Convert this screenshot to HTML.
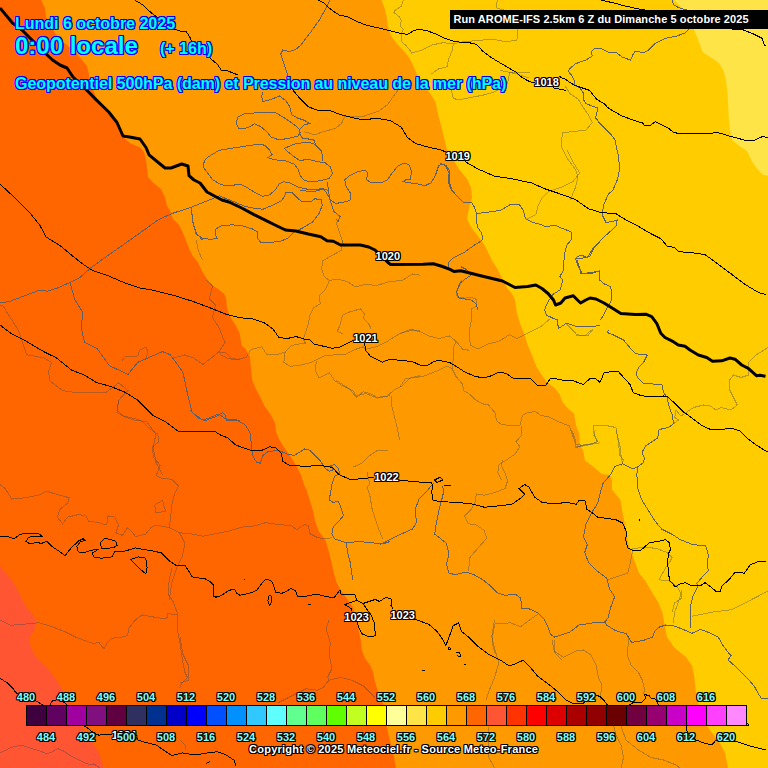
<!DOCTYPE html>
<html><head><meta charset="utf-8"><style>
html,body{margin:0;padding:0;width:768px;height:768px;overflow:hidden;background:#ff9900}
body{position:relative;font-family:"Liberation Sans",sans-serif}
svg{position:absolute;left:0;top:0}
.t{position:absolute;color:#00ffff;font-weight:bold;white-space:nowrap;
text-shadow:1px 0 #0000ff,-1px 0 #0000ff,0 1px #0000ff,0 -1px #0000ff,1px 1px #0000ff,-1px -1px #0000ff,1px -1px #0000ff,-1px 1px #0000ff}
.cl{position:absolute;width:40px;text-align:center;color:#80ffff;font-weight:bold;font-size:11px;line-height:14px;
text-shadow:1px 0 #000,-1px 0 #000,0 1px #000,0 -1px #000,1px 1px #000,-1px -1px #000,1px -1px #000,-1px 1px #000}
.il{position:absolute;width:40px;text-align:center;color:#fff;font-weight:bold;font-size:11px;line-height:14px;
text-shadow:1px 0 #000,-1px 0 #000,0 1px #000,0 -1px #000,1px 1px #000,-1px -1px #000,1px -1px #000,-1px 1px #000}
.run{position:absolute;left:450px;top:10px;width:318px;height:19px;background:#000;color:#fff;font-weight:bold;font-size:11px;line-height:19px;padding-left:3.5px;letter-spacing:0.08px;box-sizing:border-box}
.cp{position:absolute;color:#fff;font-weight:bold;font-size:11px;letter-spacing:0.25px;white-space:nowrap;
text-shadow:1px 0 #000,-1px 0 #000,0 1px #000,0 -1px #000,1px 1px #000,-1px -1px #000,1px -1px #000,-1px 1px #000}
</style></head><body>
<svg width="768" height="768" viewBox="0 0 768 768">
<rect width="768" height="768" fill="#ffcc00"/><polygon fill="#ff9900" points="0,0 381.5,0 384.6,8.3 386.7,16.7 387.7,25 390.8,35.4 397,43.75 403,50 409.6,58.3 413.75,66.7 418,77 424,85.4 430.4,93.75 435.6,102 437.7,112.5 439.8,120.8 442,129 444,137.5 446,145.8 448,154 452.5,158.3 458.75,168.75 467,179 471,187.5 472,198 469,208 467,218.75 471,227 477.5,235.4 483.75,243.75 488,252 492,260.4 497.3,268.75 502.5,279 506.7,287.5 512,293.75 515,300 516.7,312.5 519.8,323 524,333.3 528,345.8 532.3,356 536.5,366.7 541.7,375 547,382.3 554,387.5 559.4,393.75 562.5,402 567.7,408.3 574,413.5 576,425 579,433.3 580,445.8 583,450 585,460.4 593.3,466.7 601.7,474 610,475 612,481 612,489.6 620.4,500 622.5,512.5 624.6,523 626.7,533.3 628.75,545.8 632,554 635,562.5 639,573 645.4,581 651.7,591.7 658,602 662.6,613 664.8,626 667,637 674.7,648 685.6,656.8 692,665.6 694.3,676.5 695.4,687.5 696.5,698.4 707.5,726.8 714,735.5 720.6,744.3 725,753 728,768 0,768"/><polygon fill="#ff6600" points="0,0 41,0 45,8 46,17 50,25 55,33 63,42 73,50 82,60 87,66 89,75 91,85 96,97 104,106 111,114 118,123 122,132 125,139 130,143 140,147.5 144,152 146,160 147,168 148,177 153.5,183 161,189 165,197.5 167,206 170,210.4 173,218.75 179,225 183,233 186.5,241.7 189.6,250 192.7,256 198,262.5 202,271 207,279 212.5,285.4 218.75,289.6 224,293.75 226,298 227,308 230,316.7 235.4,325 239.6,333 241.7,345.8 245,348.3 250,356.7 251,369 252,379.6 255.4,388 259.6,396 264.8,406.7 271,415 275,423 276,431.7 279.4,440 284.6,448 290.8,456.7 297,467 301,475 304.4,485.8 306.7,490 309.8,500.4 313,510.8 315,521 319,531.7 325.4,540 328.5,550.4 331.7,563 333.75,573 337,583.75 342,592 348.3,600.4 352.5,606.7 355.6,615 357.7,625.4 359.8,635.8 360.8,640 361.7,650 365,658.3 370,665 373,671.7 375,681.7 377.5,690 380.8,698.3 383.3,705 386.7,726.7 389,736.7 391.7,746.7 394,756.7 395.8,768 0,768"/><polygon fill="#ff5533" points="0,565.9 4.7,571.7 11.7,580.3 17.2,588.9 19.5,593.6 21.1,598.3 25,604.5 28.7,610 32.8,614.7 35.2,619.4 35.2,627.6 32.8,632.3 29.9,637 29.3,641.7 31.7,648.7 35.2,655.7 39.9,660.4 45.7,666.3 50.4,672.1 55.1,678 59.8,685 63,691 68,700 72,706 79.9,725.2 84.5,731 89.2,736.9 92.75,742.75 96.3,748.6 99.8,755.6 102.1,762.7 103.9,768 0,768"/><polygon fill="#ffe448" points="674,0 681.8,7.8 693.5,28.6 698.8,41.6 702.7,52 710.5,57.3 718.3,62.5 723.5,70.3 726,80.7 727.4,91 728.2,104 728.7,117 730,130 732.6,140.5 739,145.8 747,151 752,161.4 757.3,169 762.5,174.4 768,175.7 768,0"/>
<g fill="none" stroke="#5c6068" stroke-width="1" shape-rendering="crispEdges"><polyline points="0,303 10,301.25 40,290 47.5,291.25 57.5,288 70,282.5 80,277.5 91.25,267.5 105,257.5 130,240 140,232.9 158.75,219.4 173.3,213.1 192,206.9 212.9,198.5 219.2,195.8 221.25,196.7 231.7,200.8 244.2,206 252.5,208 263,209.2 273.3,205 281.7,200.8 284.8,195.6 285.8,192.5 292,192.5 298.3,198.75 302.5,201.9 310.8,201.9 315,198.75 321.25,199.8 322.3,205 319.2,213.3 313,221.7 302.5,228 294.2,232 288,238.3 279.6,241.5 269.2,242.5 260.8,242.5 257.7,238.3 257.7,232 252.5,229 242,225.8 231.7,224.8 221.25,225.8 216,229 215,234.2 217,238.3 210.8,239.4 202.5,238.3 196.25,234.2 193.1,223.75 191,207"/><polyline points="70,282.5 75,300 82.8,312.5 81.25,328 84.4,342 96.9,348.4 109.4,365.6 128,374.4 137.5,362.5 162.5,351.6 170.3,354.7 182.8,371.9 187.5,393.75 192.2,412.5 203.1,420.3 218.75,414 225,418.75 240,420.3"/><polyline points="191,206.9 192,214 193,222.5 196.25,233 202.5,240"/><polyline points="330,0 326,8.3 319.3,20 311,31.7 301,45 296,49.2 289.3,51.7 282.7,50 280.7,54.2 282.7,60 286,70 288,76"/><polyline points="262.7,92.2 261.6,96.3 262.7,101.5 271,99.5 279.3,95.9 285.6,100.5 289.75,106.75 291.8,115 298,118.2 304.3,120.3 309.5,123.4 304.3,125 300.2,128.6 299,132.8 302.25,138 308.5,139 313.7,140 315.8,144.25 314.75,146.3"/><polyline points="236.6,121.3 237.7,117.2 244,114 258.5,112.6 275.2,112.6 283.5,117.2 294,124.5 299,128.6 300.2,132.8 298,136 289.75,138 279.3,140 271,137 266.8,131.75 260.6,126.5 254.3,123.8 250.2,126.5 244,128.6 238.7,128.6 236.6,124.5 236.6,121.3"/><polyline points="300,190 312.5,192 323,189 326,192 330.2,199.4 335.4,203.5 341.7,202.5 350,200.4 351,194.2 345.8,185.8 344.8,179.6 350,175.4 356.25,172.3 364.6,170.2 367.7,172.3 366.7,179.6 370.8,182.7 381.25,182.7 387.5,179.6 392.7,172.3 397.9,166 404.2,163 409.4,165 411.5,171.25 410.4,179.6 406.25,179.6 403.1,181.7 408.3,182.7 416.7,183.75 425,185.8 431.25,182.7 435.4,175.4 438.5,166 441.7,164 445.8,166 449,173.3 449,181.7 452,190 456.7,195.8 463,202 471.25,202 474.4,207.3 476.5,213.5 485.8,212.5 500.4,210.4 510.8,204.2 519.2,204.2 523.3,210.4 525.4,218.75 531.7,221.9 542,225 546.25,227 554.6,225 560.8,228 567,230.2 571.25,232.3 571.25,239.6 567,244.8 565,252 564,260.4 563,270.8 559.8,277 563,280"/><polyline points="440,163.5 446.25,165.6 449.4,170.8 448.3,181.25 450.4,188.5 456.7,195.8"/><polyline points="476.5,213.5 476.5,220.8 477.5,227 481.7,233.3 482.7,239.6 478.5,242.7 473.3,245.8 465,252 452.5,258.3 448.3,262.5 449.4,270.8"/><polyline points="460.8,266.7 467,269.8 471.25,275 465,279.2 459.8,283.3 456.7,291.7 458.75,298 471.25,300 476.5,304.2 477.5,310"/><polyline points="600,241.7 594.2,248 590,256.25 581.7,258.3 575.4,258.3 577.5,264.6 581.7,273 590,274 600,270.8"/><polyline points="672.2,0 673.3,4.4 678.75,7.7 685.3,9.8 687,10"/><polyline points="689.7,28.4 685.3,32.8 676.6,36.1 665.6,38.3 654.7,43.75 648.1,50.3 643.75,52.5 635,51.4 632.8,54.7 630.6,60.2 621.9,56.9 616.4,52.5 608.75,52.5 600,48.1 595,48.2 591,52 592.3,56 585.8,60 575.4,63.8 570,68.3 568.4,71.5 572,75.6 574.2,80.8 574.2,85 580,88 583.5,93.3 583.3,99.5 585.9,103.4 591.7,106 597.6,108 597,112.5 595.6,117.8 599.5,123 606,129.5 611.25,134.7 615,140 618.4,156.25 619.7,169.3 617.25,180 613,190 608.5,194 603.5,205 602.25,215 606,222.5 613.5,221.25 617.25,220 616,226.25 603.5,237.5 593.5,247.5 587.25,257.5 581,255 576,257.5"/><polyline points="577.25,260 581,273.75 591,272.5 599.75,271.25 599.4,280 604.6,284 610.8,287 611.9,295 610.8,302 606,310 603.5,315 600.4,320"/><polyline points="563,280 560,290 553.5,294 550.4,298 546.25,305 544.7,310 546.25,315 552.5,318 557.7,320 557.6,324.3 558.9,328.2 566.7,323 577,326.9 592.7,326.4 600,325.6"/><polyline points="190,410 197.8,417.8 205.6,420.4 216,416.5 222.6,412.6 225.2,415.2 226.5,420.4 236.9,420.4 244.7,424.3 249.9,432 251.2,442.5 252.5,455.5 256.4,462 260.3,463.3 262.9,455.5 268.1,451.6 278.5,450.3 287.7,454.2 294.2,455.5 304.6,449 309.8,450.3 315,455.5 320.2,460.7 325.4,468.5 329.3,471.1 333.2,469.8 330.6,466 334.5,464.6 338.4,468.5 339.7,473.75 334.5,476.4 332,484.2 330.6,492 329.3,499.8 333.2,502.4 338.4,501.1 341,507.6 343.6,515.4 338.4,521.9 333.2,527.1 331.9,533.6 334.5,538.9 346.25,542.8 359.3,541.5 372.3,542.8 382.7,544 390,541.5"/><polyline points="346.25,542.8 347.5,551.9 350.2,562.3 352.75,580"/><polyline points="380,544.6 390.4,539.4 400.8,534.2 412.6,529 416.5,522.5 415.2,509.5 419,499 426.9,491.25 430.8,486 433.4,483.4"/><polyline points="442.5,486 443.8,491.25 441.2,501.7 438.6,512 436,525 434.7,534.2 439.9,538.1 446.4,543.3 449,553.75 446.4,564.2 449,573.3 455.5,574.6 466,572 473.75,574.6 482.9,579.8 489.4,585 497.2,592.8 505,595.4 515.4,594.1 520.6,598 521.9,608.4 528.4,608.4 538.9,613.6 544,618.9 548,626.7 550.6,634.5 554.5,637.1 562.3,634.5 570.1,631.9 575.3,628 580,624 586,624 593.9,622.7 604.3,622.7 608.2,617.5 610.8,607 614.7,596.7 609.5,588.9 606.9,578.4 596.5,570.6 588.6,562.8 584.7,552.4 587.3,544.6 583.4,536.8 586,523.75 591.25,513.3 597.8,503 600.4,492.5 603,483.4 610.8,474.3 614.7,466.5 622.5,463.9 633,469 638.1,466.5"/><polyline points="659,430 657.7,437.8 646,445.6 642,452.1 644.6,458.6 643.3,462.6 638.1,466.5 636.8,474.3 638.1,489.9 642,500.3 648.5,510.7 655,521.1 661.6,529 672,534.2 679.8,539.4 692.8,544.6 705.8,545.9 708.4,555 707.1,565.4 708.4,570.6 703.2,575.8 696.7,583.6 698,586.25 692.8,596.7 690.2,607 690.2,618.4 691,628"/><polyline points="608.5,330 607.25,332.5 613.5,335 623.5,340 629.75,347.5 636,353.75 647.25,355 643.5,362.5 638.5,367.5 636,373.75 638.5,378.75 643.5,383.75 651,383.75 662.25,385 663.5,392.5 667.25,397.5 668.5,405 672.25,415 673.5,423.75 668.5,427.5 662.25,428.75 659,430"/><polyline points="604.4,620.6 606.6,625 615.3,630.5 626.3,633.75 631.7,642.5 643.75,640.3 652.5,637 654.7,631.6 659,627.2 665.6,625 674.4,626.1 683.2,629.4 691.9,633.3 700.7,629.4 709.4,632.7 718.2,637 722.5,644.7 729.1,653.5 731.3,655.6 728,660 735.7,666.6 742.2,673.2 748.8,679.7 754.3,686.3 758,693 761,698 768,699"/><polyline points="204.3,160.8 208.5,156.7 219,150.4 237.7,147.3 258.5,144.2 264.75,145.2 269,149.4 272,154.6 267.9,157.7 275.2,159.8 285.6,160.8 294,164 298,169.2 300.2,175.4 304.3,180.6 312.7,181.7 321,180.6 329.3,178.5 332.5,173.3 330.4,167 325.2,162.9 319,161.9 310.6,159.8 304.3,159.8 300.2,160.8 294,156.7 287.7,151.5 284.5,148.3 294,144.2 304.3,142.5 312.7,143.1 316.8,146.25 321,150.4 323,156.7 322,160.8"/><polyline points="204.3,160.8 203.3,167 206.4,171.25 212.7,179.6 221,184.8 229.3,185.8 239.75,184.2 246,186.9 254.3,192.1 262.7,196.25 269,195.2 275.2,190 279.3,183.75 283.5,181.7 289.75,182.7 298,186.9 306.4,189 316.8,190 321.25,188.3 328.5,190.4 329.6,198.75 333.75,211.25 340,216.5 338,221.7 335.8,218.5"/><polyline points="327.25,181.7 328.5,190.4"/><polyline points="215,180 214.7,180"/></g>
<g fill="none" stroke="#404858" stroke-opacity="0.38" stroke-width="1" shape-rendering="crispEdges"><polyline points="121.9,361 125,357 137.5,356 140,350 146,347 148,352 146,358"/><polyline points="0,305 3,306 18.75,331 26.6,354.7 43.75,357.8 51.6,362.5 48.4,372 50,381 62.5,390.6 78,393 106,392.5 118.75,382.8 128,390.6 118.75,400 117,412.5 125,417 134.4,420 146.9,422 156,434.4 153,447 156,462.5 162.5,475"/><polyline points="304.2,131.7 314.6,134.8 323,131.7 335.4,128.5 341.7,123.3 344.8,116 354.2,117 364.6,116 379.2,110.8 387.5,104.6 398,90"/><polyline points="497.3,0 496,7.8 505,10.4 515.5,20.8 518,31.25 516.8,40.4 505,41.7 492,39 479,40.4 463.4,41.7 453.3,43.75 452.3,50 449,58.3 447,66.7 438.75,68.75 431.5,74"/><polyline points="500,70.3 518,74.2 528.5,78"/><polyline points="451.25,89.6 453.3,98 457.5,100 474,96.9 484.6,94.8 495,91.7 503.3,87.5 507.5,83.3 509.6,73 515.8,72 524,72 530,73"/><polyline points="565,86 570.2,93.75 578,99 584.5,109.4 588.4,114.6 592.3,122.4 585.8,130.2 572.8,131.5 562.4,132.8 561.1,145.8 567.6,158.9 575.4,169.3 578,177 575.4,187.5 570.2,200"/><polyline points="567,150 573.3,162.5 579.6,173 573.3,181.25 560.8,187.5 548.3,191.7 542,198 538,206.25 535.8,214.6 527.5,218.75"/><polyline points="461.2,280 460,285.2 456,291.7 457.3,297 465,298.2 470.3,297 476.8,299.5 476.8,306 471.6,308.6 471.6,319 469,332 470.3,345 478,349 488.5,343.8 499,341.2 509.4,334.7 517.2,338.6 522.4,336 530.2,332 540.6,326.9 549.7,319"/><polyline points="400,333.4 410.4,329.5 420.8,332 428.6,336 439,338.6 449.5,336 456,341.2 462.5,349 469,350.3"/><polyline points="456,341.2 453.4,347.7 453.4,358 452,368.5 456,376.4 462.5,384.2 463.8,390.7 470.3,394.6 475.5,399.8 482,403.7 488.5,405 495,412.8 496.4,420.6 501.6,424.5 512,425.8 519.8,425.8 522.4,415.4 527.6,412.8 535.4,411.5 540.6,415.4 548.4,416.7 558.9,422 569.3,425.8 571.9,433.6 575.8,444 582.3,445.4 592.7,444 600,442.8"/><polyline points="521,425.8 521,436.25 515.9,441.5 519.8,446.7 514.6,454.5 506.8,459.7 499,464.9 497.7,472.7 501.6,480"/><polyline points="400,386.8 405.2,379 413,377.7 423.4,376.4 436.5,371.1 446.9,366 452,368.5"/><polyline points="566.7,324.3 577,334.7 587.5,336 592.7,329.5"/><polyline points="118.5,400 117.2,410.4 122.4,415.6 132.8,418.2 141.9,420.8 149.7,428.6 157.6,433.9 158.9,441.7 152.3,446.9 153.6,457.3 160.2,465.1 156.25,475.5 161.5,478.1 171.9,479.4 178.4,485.9 174.5,493.75 171.9,504.2 170.6,517.2 169.3,527.6"/><polyline points="0,484.6 5.2,488.5 11.7,499 26,497.7 39,495 46.9,491.1 54.7,493.75 69,497.7 67.7,502.9 59.9,509.4 57.3,517.2 62.5,523.7 67.7,517.2 78.1,514.6 85.9,515.9 88.5,521.1 97.7,522.4 106.8,525 108,515.9 114.6,517.2 118.5,525 115.9,532.8 122.4,535.4 127.6,527.6 132.8,532.8 135.4,536.7 145.8,534.1 151,527.6 156.25,525 169.3,527.6 179.7,532.8 192.7,534.1 203,536.25 216,533.6 229,531 242,527.1 255,525.8 265.5,522.7 278.5,524.5 291.6,525.8 296.8,529.7 304.6,524.5 308.5,525.8 309.8,533.6 317.6,537.6 325.4,538.9 332,537.6"/><polyline points="179.7,532.8 184.9,543.2 182.3,556.25 177,566.7 171.9,582.3 169.3,600"/><polyline points="156,512.8 154.7,505 162.5,500.3 165.6,511.25 156,512.8"/><polyline points="335.8,380 343.6,385.2 354,391.7 356.7,397 363.2,391.7 372.3,394.3 377.5,398.2 390,395.6"/><polyline points="352.75,467.2 361.9,463.3 369.7,455.5 377.5,450.3 388,450.3"/><polyline points="367,472.4 369.7,484.2 367,486.8 369.7,494.6 372.3,510.2 377.5,525.8 382.7,538.9"/><polyline points="571.7,430 575.6,440.4 575.6,447 586,445.6 597.8,441.7 593.9,435.2 595.2,430"/><polyline points="616,430 619.9,445.6 621.2,456 622.5,463.9"/><polyline points="633,548.5 646,547.2 656.4,548.5 666.8,552.4 672,557.6 669.4,562.8 665.5,568 659,579.7 669.4,581 677.2,586.25 681.1,594 678.5,601.9 674.6,612.3 673.3,622.7"/><polyline points="633,548.5 630.3,562.8 627.7,573.2 612.1,578.4 608.2,579.7"/><polyline points="691.9,616.25 713.8,611.9 731.3,609.7 748.8,601 768,591"/><polyline points="502.4,460 501.1,465.2 505,473 507.6,480.8 505,488.6 494.6,492.6 484.2,495.2 476.4,493.9 475,501.7 471.1,509.5 464.6,516 468.5,523.8 476.4,525.1 484.2,530.3 486.8,538.1 477.6,548.5 469.8,557.6 468.5,570.7"/><polyline points="494.6,652.7 492,642.3 493.3,631.9 494.6,624 510.2,622.8 520.6,626.7 531,618.9 538.9,613.6"/><polyline points="551.9,639.7 554.5,652.7 562.3,660"/><polyline points="0,620 10.4,625.3 26,624 39,622.7 52,626.6 65.1,631.8 75.5,637 86,641 93.75,643.5 99,642.2 101.6,646 104.2,648.7 106.8,643.5 112,638.3 122.4,637 127.6,635.7 128.9,627.9 135.4,620 141.9,614.9 156.25,617.5 166.7,618.8 168,613.6 177,614.9"/><polyline points="171.9,568 169.3,578.4 168,594 173.2,601.9 177,612.3 177,627.9 179.7,641 182.3,659 184.9,672.2 187.5,677.4 182.3,682.6 179.7,687.8"/><polyline points="0,752.9 10.4,747.7 20.8,745 30,748 40,751 47,753.9 51.7,752.1 57.6,748.6 63.4,751 70.5,755.6 77.5,759.2 84.5,762.7 90.4,765 93.9,763.9 97.4,766.2 100,768"/><polyline points="179.7,739.9 184.9,745 186.2,750.3"/><polyline points="329,620 326.1,628.6 330.4,643 329,654.4 331.9,668.7 327.6,677.3 329,680.2 340.5,677.3 351.9,680.2 363.4,685.9 374.8,697.4"/><polyline points="329,680.2 323.3,687.3 317.5,690.2 306,688.8 294.6,694.5 286,698.8 277.4,703.1"/><polyline points="180,637.2 182.9,654.4 188.6,665.8 188.6,680.2 180,683"/><polyline points="494.6,620 491.7,637.2 494.6,648.7 498.9,663 494.6,677.3 488.8,691.6 486,700.2"/><polyline points="488.8,727 488.8,757.5 494.6,768"/><polyline points="576,335 586,335 591,330"/><polyline points="768,347.5 756,355 748.5,362.5 748.5,375 741,377.5 733.5,375 729.75,380 729.75,390 733.5,397.5 737.25,405 731,410 721,407.5 716,410 711,406.25 703.5,405 693.5,407.5 686,412.5 681,416.25 676,410 674.75,417.5 678.5,420 673.5,423.75"/><polyline points="576,447.5 583.5,445 592.25,443.75 597.25,441.25 593.5,432.5 593.5,425 603.5,425 616,427.5 618.5,442.5 619.75,455 623.5,460 621,466.25"/><polyline points="342.4,240 341.1,250.4 329.4,256.9 322.9,260.8 321.6,268.6 324.2,276.5 329.4,280.4 337.2,279 347.6,281.7 355.4,286.9 365.8,284.3 376.25,285.6 389.3,281.7 402.3,280.4 412.7,273.9 420,275.2"/><polyline points="329.4,280.4 325.5,289.5 319,296 320.25,303.8 313.75,307.7 309.8,315.5 308.5,323.3 305.9,331.1 303.3,339 305.9,344.2"/><polyline points="339.8,326 342.4,315.5 350.2,311.6 360.6,309 364.5,314.2 363.2,318.1 368.4,323.3 371,328.5"/><polyline points="339.8,326 337.2,331.1 342.4,333.75"/><polyline points="220,354.6 227.8,358.5 235.6,359.8 246,357.2 251.25,349.4 261.7,346.8 266.9,354.6 277.3,354.6 285.1,352 291.6,345.5 298.1,344.2 305.9,342.9"/><polyline points="285.1,352 283.8,362.4 290.3,366.3 300.7,365 311.1,362.4 319,358.5 324.2,355.9 337.2,354.6 345,354.6 355.4,349.4 363.2,346.8 365.8,349.4 376.25,346.8 386.7,341.6 399.7,333.75 412.7,329.8 420,331.1"/><polyline points="316.4,361.1 315,370.2 319,378 329.4,372.8 334.6,380.6 342.4,385.8 350.2,389.75 355.4,396.25 365.8,393.6 376.25,397.5 386.7,396.25 394.5,389.75 402.3,385.8 410.1,378 420,375.4"/><polyline points="391.9,396.25 391.9,406.7 394.5,417 397.1,427.5 399.7,440"/><polyline points="672.2,611.9 674.4,603.1 681,598.75 682,590"/><polyline points="335.8,221.7 340,234 344.2,246.7"/><polyline points="196.25,240.4 198.3,250.8 202.5,260"/><polyline points="206,280 212.5,286 209.4,298.75 215.6,305 212.5,317.5 218.75,327 225,342.5 218.75,352 203,364.4 193.75,358 184.4,355 173.4,358"/><polyline points="218.75,352 225,352 231,358 240,359.7"/><polyline points="554.7,640 554.7,651.5 563.3,657.2 576,651 583.5,650 591,655 596,665 598.5,677.5 602,685 601,692.5 600,700"/><polyline points="628.4,636 628.5,640 627.25,655 631,665 638.5,672.5 642.25,680 644.75,690 643.5,694"/><polyline points="621,726 626,740 638.5,750 651,757.5 663.5,760 676,765 680,768"/><polyline points="613.5,725 616,735 621,745 623.5,757.5 621,768"/><polyline points="403.3,0 401.25,6.25 395,10.4 394,12.5 399.2,16.7 401.25,20.8 400.2,26 403.3,29.2 401.25,33.3 401.25,41.7 405.4,44.8 409.6,50 411.7,53.1 422,50 432.5,44.8 443,42.7 453.3,43.75"/></g>
<g fill="none" stroke="#000" stroke-width="1" shape-rendering="crispEdges"><polyline points="318.5,0 324.3,3.3 327.7,6.7 332.7,10.8 339.3,15 347.7,16.7 354.3,20 359.3,22.5 366,25 372.7,26.7 384,29.2 391,31 399,33 407.5,34.4 412.7,31.25 418,29 428,31 436.7,34.4 445,38.5 455.4,41.7 474,43.3 478,45.8 482.5,51 490.8,57.3 503,64.6 515.8,72 520,76.1 525.2,79.3 530.4,81.9 535,83"/><polyline points="553,87 554.4,88.1 557.5,88.6 561.7,89.7 565.8,90.2"/><polyline points="559,76.1 562.7,78.2 565.8,79.3 569,81.9 574.2,85 580,87.2 589.8,90.4 593,95 597,99.5 604.7,104 607.3,107.3 612.6,110.6 621.7,115.8 632,119.7 642.5,123 644.5,125.6 650.3,125.3 655.5,121.7 660.7,124.3 668.5,128.2 673.75,132.7 680,133.4 694.8,134 718.3,132.7 731.3,136.6 744.3,140 754.7,140 762.5,136.6 768,137.4"/><polyline points="134.7,0 143,5 148,10 154,15 174,29 180,31 186.3,31.7 189.7,36.7 192,42"/><polyline points="208,55 210,58 218,65 221,70 228,71 238,75"/><polyline points="291.3,88.3 301.3,100 308,106.7 317,110 328,110 342,115 354.7,118.3 364.7,120 374.7,118.3 384,119.3 391,121 401,127 407.5,137.5 416,143.75 428,147 441,150 446,152"/><polyline points="465,161.5 477.5,168.75 494,176 513,179 531.7,183 544,188.5 556.7,192.7 569,197 576,200 588.5,208.75 601,212.5 616,213.75 626,220 636,225 651,233.75 661,238.75 667.25,246.25 674.75,247.5 678.5,251.25 686,252.5 693.5,253 704.75,254.5 716,262.5 731,273.75 746,285 758.5,292.5 766,294.5"/><polyline points="0,184 15,198 30,213 40,225.5 46,237 60,245.5 75,258 85,265.5 92.5,270.5 107.5,275.5 125,283 140,288 150,289.6 175,295.8 191.7,301 208,307 227,314.6 239.6,317.7 252,318.75 264.6,323 273,329 279,337.5 287.5,338.5 295.8,336.5 304,339 310,340 313.75,344 332.5,348.3 340,347 347,343.4 353,340.6"/><polyline points="364.6,343.4 365.8,350.5 370.5,356.3 382.2,362.2 389.2,359.4 401,360.3 412.7,361.7 419.7,365 426.7,365.7 433.75,361.7 438.4,360.3 450,362.7 457,366.9 464.2,371.6 473.6,375.8 483,378.1 490,376.25 499.4,372 506.4,373.4 512.5,378 531,379 537.5,385.4 545.8,385.4 550,379 556,378.75 566.7,381 570.8,380 583.3,384.4 589.6,379 595.8,378.75 600,382.3 604,373 612.5,371.25 618.75,372 625,379 630,384.4 633.3,392.7 641.7,395.8 652,396.9 663.5,396 668,397 676.6,405 683,411.6 692,418 700.6,424.7 709.4,429 720,430 731,428 740,431 746.6,437.8 755.4,444.4 764,450 768,452"/><polyline points="0,325 12.5,334.4 25,340.6 43.75,351.6 56.25,357.8 71.9,370.3 84.4,375 96.9,382.8 109.4,386 125,392.2 137.5,400 146.9,409.4 153.1,415.6 165.6,421.9 178.1,431.25 200,431.9 215.6,431.9 220,434.8 228,438 235.6,445 251,450.4 261.7,450.4 270,446.7 276,448 281.5,453.5 282.5,461 288.75,465 307.5,466.7 315.8,465 324,466 332.5,467.5 338.75,474.4 351,480 361.7,478.5 374,477.5"/><polyline points="398.6,480 413,481.5 431.6,483 433,485.8 431.6,491.5 433,500 438.8,501.5 456,502.4 470.3,503.6 484.6,507.3 499,505.8 511.8,504.4 521.9,497.2 524.7,494.4 519,488.7 524.7,484.4 529,487.2 534.8,497.2 542,502.4 553.4,503.8 567.7,502.4 576.3,504.4 579.2,500 585,501 587,509.4 593.3,513.5 597.5,517 616,519.8 622.5,523 626.7,532.3 625.6,539.6 627.7,548 634,551 641,550 649.6,542.7 660,541 665.6,539.7 669.1,542.5 670.5,549.5 668.4,553.75 667.7,562.2 668.4,573.4 669.8,580.5 673.4,584.7 675.5,586.8 679.7,584 685.3,582.6 692.3,586 700.8,585.4 705,582.6 710.6,586.8 715.5,591 720.5,591 721.9,586 728.9,579.8 735.2,572 744.4,573.2 750,565 758.4,561.5 765.5,561.2"/><polyline points="434.5,480 440,477.2 443,480 437,482.4 434.5,480"/><polyline points="444,485 451,485"/><polyline points="0,536.8 7.8,536.6 14.3,538.6 19.5,534.7 24.7,533.4 39,534 41.7,536 33.9,536 28.6,537.3 26,541.25 30,543.9 36.5,542.6 41.7,543.3 46.9,541.25 52,546.5 59.9,551.7 65.1,555.6 70.3,549 78.1,541.25 83.3,538.6 85.4,540.7 80.7,541.25 76.8,546.5 78.1,551.7 83.3,553 91.1,550.4 99,549 92.4,553 93.75,556.9 101.6,558.2 112,556.9 114.6,551.7 125,551.1 135.4,547.8 143.2,549.6 151,550.4 161.5,553 169.3,560.8 177,566 184.9,565.2 188.8,571.2 192.3,576.9 199.4,578 205.6,579 210.3,581.9 213.4,585 213.4,596 215.8,597.2 221.25,595.6 227.5,591.25 230.6,590 234.5,589.4 236.9,593.6 240,595.2 246.25,594 252.5,592.5 257.2,589.7 261.9,583.4 265.8,579.5 270.5,580.3 272.8,583.4 276,592.8 282.2,593.1 286.9,591.25 290.8,588.4 295.5,591 297.8,596.7 302.5,596.7 310,595.6 315,594 333.75,598 340,590 341,594 354.6,594 356.7,600.4 363,603.5 375.4,599.4 379.6,601.5 385.8,597.3 392,599.4 391,605.6 393,609"/><polyline points="363,603.5 368,610.8 371,615 374.4,623 375.4,635.8 369,636.9 362,633.75 358.75,627.5 357,622"/><polyline points="356.7,600.4 350.4,602.5 345,604.6 351.5,608.75 352,611"/><polyline points="101.6,548.5 100.3,542.6 104.2,538.6 109.4,539.2 115.9,541.25 117.2,545.2 113.3,547.8 101.6,548.5"/><polyline points="130.2,559.5 138,556.9 145.8,558.2 147.1,567.3 145.8,573.8 138,567.3 130.2,559.5"/><polyline points="269.7,594.7 272,597.5 271.25,602.2 269.7,605.3 267.8,600.6 268.9,596 269.7,594.7"/><polyline points="414,619 417,620 428.7,624.3 437.2,631.5 443,640 445.8,645.8 450.1,634.3 453,625.7 458.7,622.9 461.6,631.5 468.8,637.2 477.4,645.8 488.8,654.4 500.3,660.1 508.9,665.8 514.6,664.4 523.2,660.1 528.9,665.8 537.5,675.9 549,684.5 557.6,691.6 566.2,700.2 571.9,703.1 583.4,703.1 594.6,694.6 600,696.5 603.7,700.1 607.3,705"/><polyline points="686,726.25 687.25,732.5 696,740 706,743.75 712.25,744.5 716,740 726,740 736,741.25 751,746.25 766,750"/><polyline points="0,678.4 7.2,682.7 12.9,688.4 15.8,692.7 25,697 34.4,699.9 43,705"/><polyline points="50,705 51.6,701.3 56,699.9 60,699.9 64.5,702.7 67.3,705"/><polyline points="82.2,725.2 86.9,727.5 90.4,730.4 95.1,733.4 98.6,735.1 105.6,734.5 112,734"/><polyline points="135.4,734.7 138,740 145.8,742.5 156.25,745 164,750.3 171.9,755.5 182.3,752.9 190,754.2 197.2,754.7 205.8,753.2 217.2,751.8 225.8,754.7 234.4,760.4 235.9,766"/><polyline points="205.8,763.3 210,761.8"/><polyline points="629.2,705 632.8,702.8 641.9,702 645.6,698.3 644.7,694.6 649.2,695.6 651,698.3 654.7,698.3 657.4,702 658.3,705"/><polyline points="448.7,647.2 451,649 449,650 448.7,647.2"/><polyline points="455.9,653 459,652 461,655.8 459,657 457,655"/><polyline points="464,664 466,665"/><polyline points="422,670 425,670"/><polyline points="244,579.5 245.5,580.5"/><polyline points="601,0 615,3.3 622,5.2 637,8.75 645,10"/><polyline points="731.3,29 742.2,29.5 753.2,33.9 762,38.3 764,43.75 765.2,46"/><polyline points="639,519.5 640,520.5"/><polyline points="746,722 749,725 746,726"/><polyline points="308,604.5 311,604.5"/></g>
<g fill="none" stroke="#000" stroke-width="3" stroke-linejoin="round"><polyline points="0,8 12.5,23 22,30 32,40 45,53 52.5,60 60,65 67,68 73,77 83.75,87 96,99.6 108.75,112 117,122.5 123,136 129.6,137 140,139 146,147.5 149,154.8 165,168 171,168 181.7,164 188,166 189,175.6 194,180 200,183 207,192 221.9,200 229,202 241.7,208 254,214.6 266.7,220.8 275,225 285.4,230 295.8,231 308.3,234 320.8,236.7 327,240.8 333.3,241.25 340.6,245 360.4,245 368.75,247 375,250 387.5,262 390.6,264.6 423,264.2 433.3,263.75 441.7,266.25 450,269.4 454,271.5 460.8,270.8 481.7,276 502.5,281 515,287.5 527.5,286.5 535.8,285 542,288.5 548.3,293.75 553.5,300 555.6,305 560.8,303 565,298 573.3,295.8 577.5,300 580.6,303 585.8,300 590,298 596,299 604,303 612.5,308.3 620.8,313.5 635.4,314.6 645.8,314.2 651.7,316.7 656.7,323.3 660.8,333.3 665,337.5 673.3,341.7 678.3,345 685,346.3 690,350 698.3,355 706.7,357.5 712.5,361.3 721.7,360.8 730,358 735,359.2 741.7,365 748.3,368.3 756.7,375.8 760,375.3 765.5,376.3"/></g>
<rect x="26.5" y="705.5" width="20" height="20" fill="#3f0040" stroke="#000" stroke-width="1"/><rect x="46.5" y="705.5" width="20" height="20" fill="#600060" stroke="#000" stroke-width="1"/><rect x="66.5" y="705.5" width="20" height="20" fill="#a000a0" stroke="#000" stroke-width="1"/><rect x="86.5" y="705.5" width="20" height="20" fill="#801080" stroke="#000" stroke-width="1"/><rect x="106.5" y="705.5" width="20" height="20" fill="#600040" stroke="#000" stroke-width="1"/><rect x="126.5" y="705.5" width="20" height="20" fill="#303060" stroke="#000" stroke-width="1"/><rect x="146.5" y="705.5" width="20" height="20" fill="#003090" stroke="#000" stroke-width="1"/><rect x="166.5" y="705.5" width="20" height="20" fill="#0000c8" stroke="#000" stroke-width="1"/><rect x="186.5" y="705.5" width="20" height="20" fill="#0000ff" stroke="#000" stroke-width="1"/><rect x="206.5" y="705.5" width="20" height="20" fill="#0050ff" stroke="#000" stroke-width="1"/><rect x="226.5" y="705.5" width="20" height="20" fill="#0090ff" stroke="#000" stroke-width="1"/><rect x="246.5" y="705.5" width="20" height="20" fill="#30c8ff" stroke="#000" stroke-width="1"/><rect x="266.5" y="705.5" width="20" height="20" fill="#60ffff" stroke="#000" stroke-width="1"/><rect x="286.5" y="705.5" width="20" height="20" fill="#60ff90" stroke="#000" stroke-width="1"/><rect x="306.5" y="705.5" width="20" height="20" fill="#60ff60" stroke="#000" stroke-width="1"/><rect x="326.5" y="705.5" width="20" height="20" fill="#60ff00" stroke="#000" stroke-width="1"/><rect x="346.5" y="705.5" width="20" height="20" fill="#c0ff20" stroke="#000" stroke-width="1"/><rect x="366.5" y="705.5" width="20" height="20" fill="#ffff00" stroke="#000" stroke-width="1"/><rect x="386.5" y="705.5" width="20" height="20" fill="#ffff99" stroke="#000" stroke-width="1"/><rect x="406.5" y="705.5" width="20" height="20" fill="#ffe448" stroke="#000" stroke-width="1"/><rect x="426.5" y="705.5" width="20" height="20" fill="#ffcc00" stroke="#000" stroke-width="1"/><rect x="446.5" y="705.5" width="20" height="20" fill="#ff9900" stroke="#000" stroke-width="1"/><rect x="466.5" y="705.5" width="20" height="20" fill="#ff6600" stroke="#000" stroke-width="1"/><rect x="486.5" y="705.5" width="20" height="20" fill="#ff5533" stroke="#000" stroke-width="1"/><rect x="506.5" y="705.5" width="20" height="20" fill="#ff3300" stroke="#000" stroke-width="1"/><rect x="526.5" y="705.5" width="20" height="20" fill="#ff0000" stroke="#000" stroke-width="1"/><rect x="546.5" y="705.5" width="20" height="20" fill="#dd0000" stroke="#000" stroke-width="1"/><rect x="566.5" y="705.5" width="20" height="20" fill="#aa0000" stroke="#000" stroke-width="1"/><rect x="586.5" y="705.5" width="20" height="20" fill="#900000" stroke="#000" stroke-width="1"/><rect x="606.5" y="705.5" width="20" height="20" fill="#6a0000" stroke="#000" stroke-width="1"/><rect x="626.5" y="705.5" width="20" height="20" fill="#700040" stroke="#000" stroke-width="1"/><rect x="646.5" y="705.5" width="20" height="20" fill="#960070" stroke="#000" stroke-width="1"/><rect x="666.5" y="705.5" width="20" height="20" fill="#c800c8" stroke="#000" stroke-width="1"/><rect x="686.5" y="705.5" width="20" height="20" fill="#ff00ff" stroke="#000" stroke-width="1"/><rect x="706.5" y="705.5" width="20" height="20" fill="#ff40ff" stroke="#000" stroke-width="1"/><rect x="726.5" y="705.5" width="20" height="20" fill="#ff88ff" stroke="#000" stroke-width="1"/>
</svg>
<div class="il" style="left:526.55px;top:74.65px">1018</div><div class="il" style="left:437.725px;top:148.7px">1019</div><div class="il" style="left:367.8px;top:248.8px">1020</div><div class="il" style="left:345.5px;top:331.3px">1021</div><div class="il" style="left:366.45px;top:470.15px">1022</div><div class="il" style="left:336.55px;top:609.5px">1023</div><div class="il" style="left:382.75px;top:608px">1023</div><div class="il" style="left:104px;top:727.5px">1024</div>
<div class="t" style="left:15px;top:15px;font-size:16px">Lundi 6 octobre 2025</div>
<div class="t" style="left:15px;top:32px;font-size:24px">0:00 locale</div>
<div class="t" style="left:160px;top:40px;font-size:16px">(+ 16h)</div>
<div class="t" style="left:15px;top:75px;font-size:16px;letter-spacing:-0.05px">Geopotentiel 500hPa (dam) et Pression au niveau de la mer (hPa)</div>
<div class="run">Run AROME-IFS 2.5km 6 Z du Dimanche 5 octobre 2025</div>
<div class="cl" style="left:6px;top:690px">480</div><div class="cl" style="left:26px;top:730px">484</div><div class="cl" style="left:46px;top:690px">488</div><div class="cl" style="left:66px;top:730px">492</div><div class="cl" style="left:86px;top:690px">496</div><div class="cl" style="left:106px;top:730px">500</div><div class="cl" style="left:126px;top:690px">504</div><div class="cl" style="left:146px;top:730px">508</div><div class="cl" style="left:166px;top:690px">512</div><div class="cl" style="left:186px;top:730px">516</div><div class="cl" style="left:206px;top:690px">520</div><div class="cl" style="left:226px;top:730px">524</div><div class="cl" style="left:246px;top:690px">528</div><div class="cl" style="left:266px;top:730px">532</div><div class="cl" style="left:286px;top:690px">536</div><div class="cl" style="left:306px;top:730px">540</div><div class="cl" style="left:326px;top:690px">544</div><div class="cl" style="left:346px;top:730px">548</div><div class="cl" style="left:366px;top:690px">552</div><div class="cl" style="left:386px;top:730px">556</div><div class="cl" style="left:406px;top:690px">560</div><div class="cl" style="left:426px;top:730px">564</div><div class="cl" style="left:446px;top:690px">568</div><div class="cl" style="left:466px;top:730px">572</div><div class="cl" style="left:486px;top:690px">576</div><div class="cl" style="left:506px;top:730px">580</div><div class="cl" style="left:526px;top:690px">584</div><div class="cl" style="left:546px;top:730px">588</div><div class="cl" style="left:566px;top:690px">592</div><div class="cl" style="left:586px;top:730px">596</div><div class="cl" style="left:606px;top:690px">600</div><div class="cl" style="left:626px;top:730px">604</div><div class="cl" style="left:646px;top:690px">608</div><div class="cl" style="left:666px;top:730px">612</div><div class="cl" style="left:686px;top:690px">616</div><div class="cl" style="left:706px;top:730px">620</div>
<div class="cp" style="left:249px;top:743px">Copyright © 2025 Meteociel.fr - Source Meteo-France</div>
</body></html>
